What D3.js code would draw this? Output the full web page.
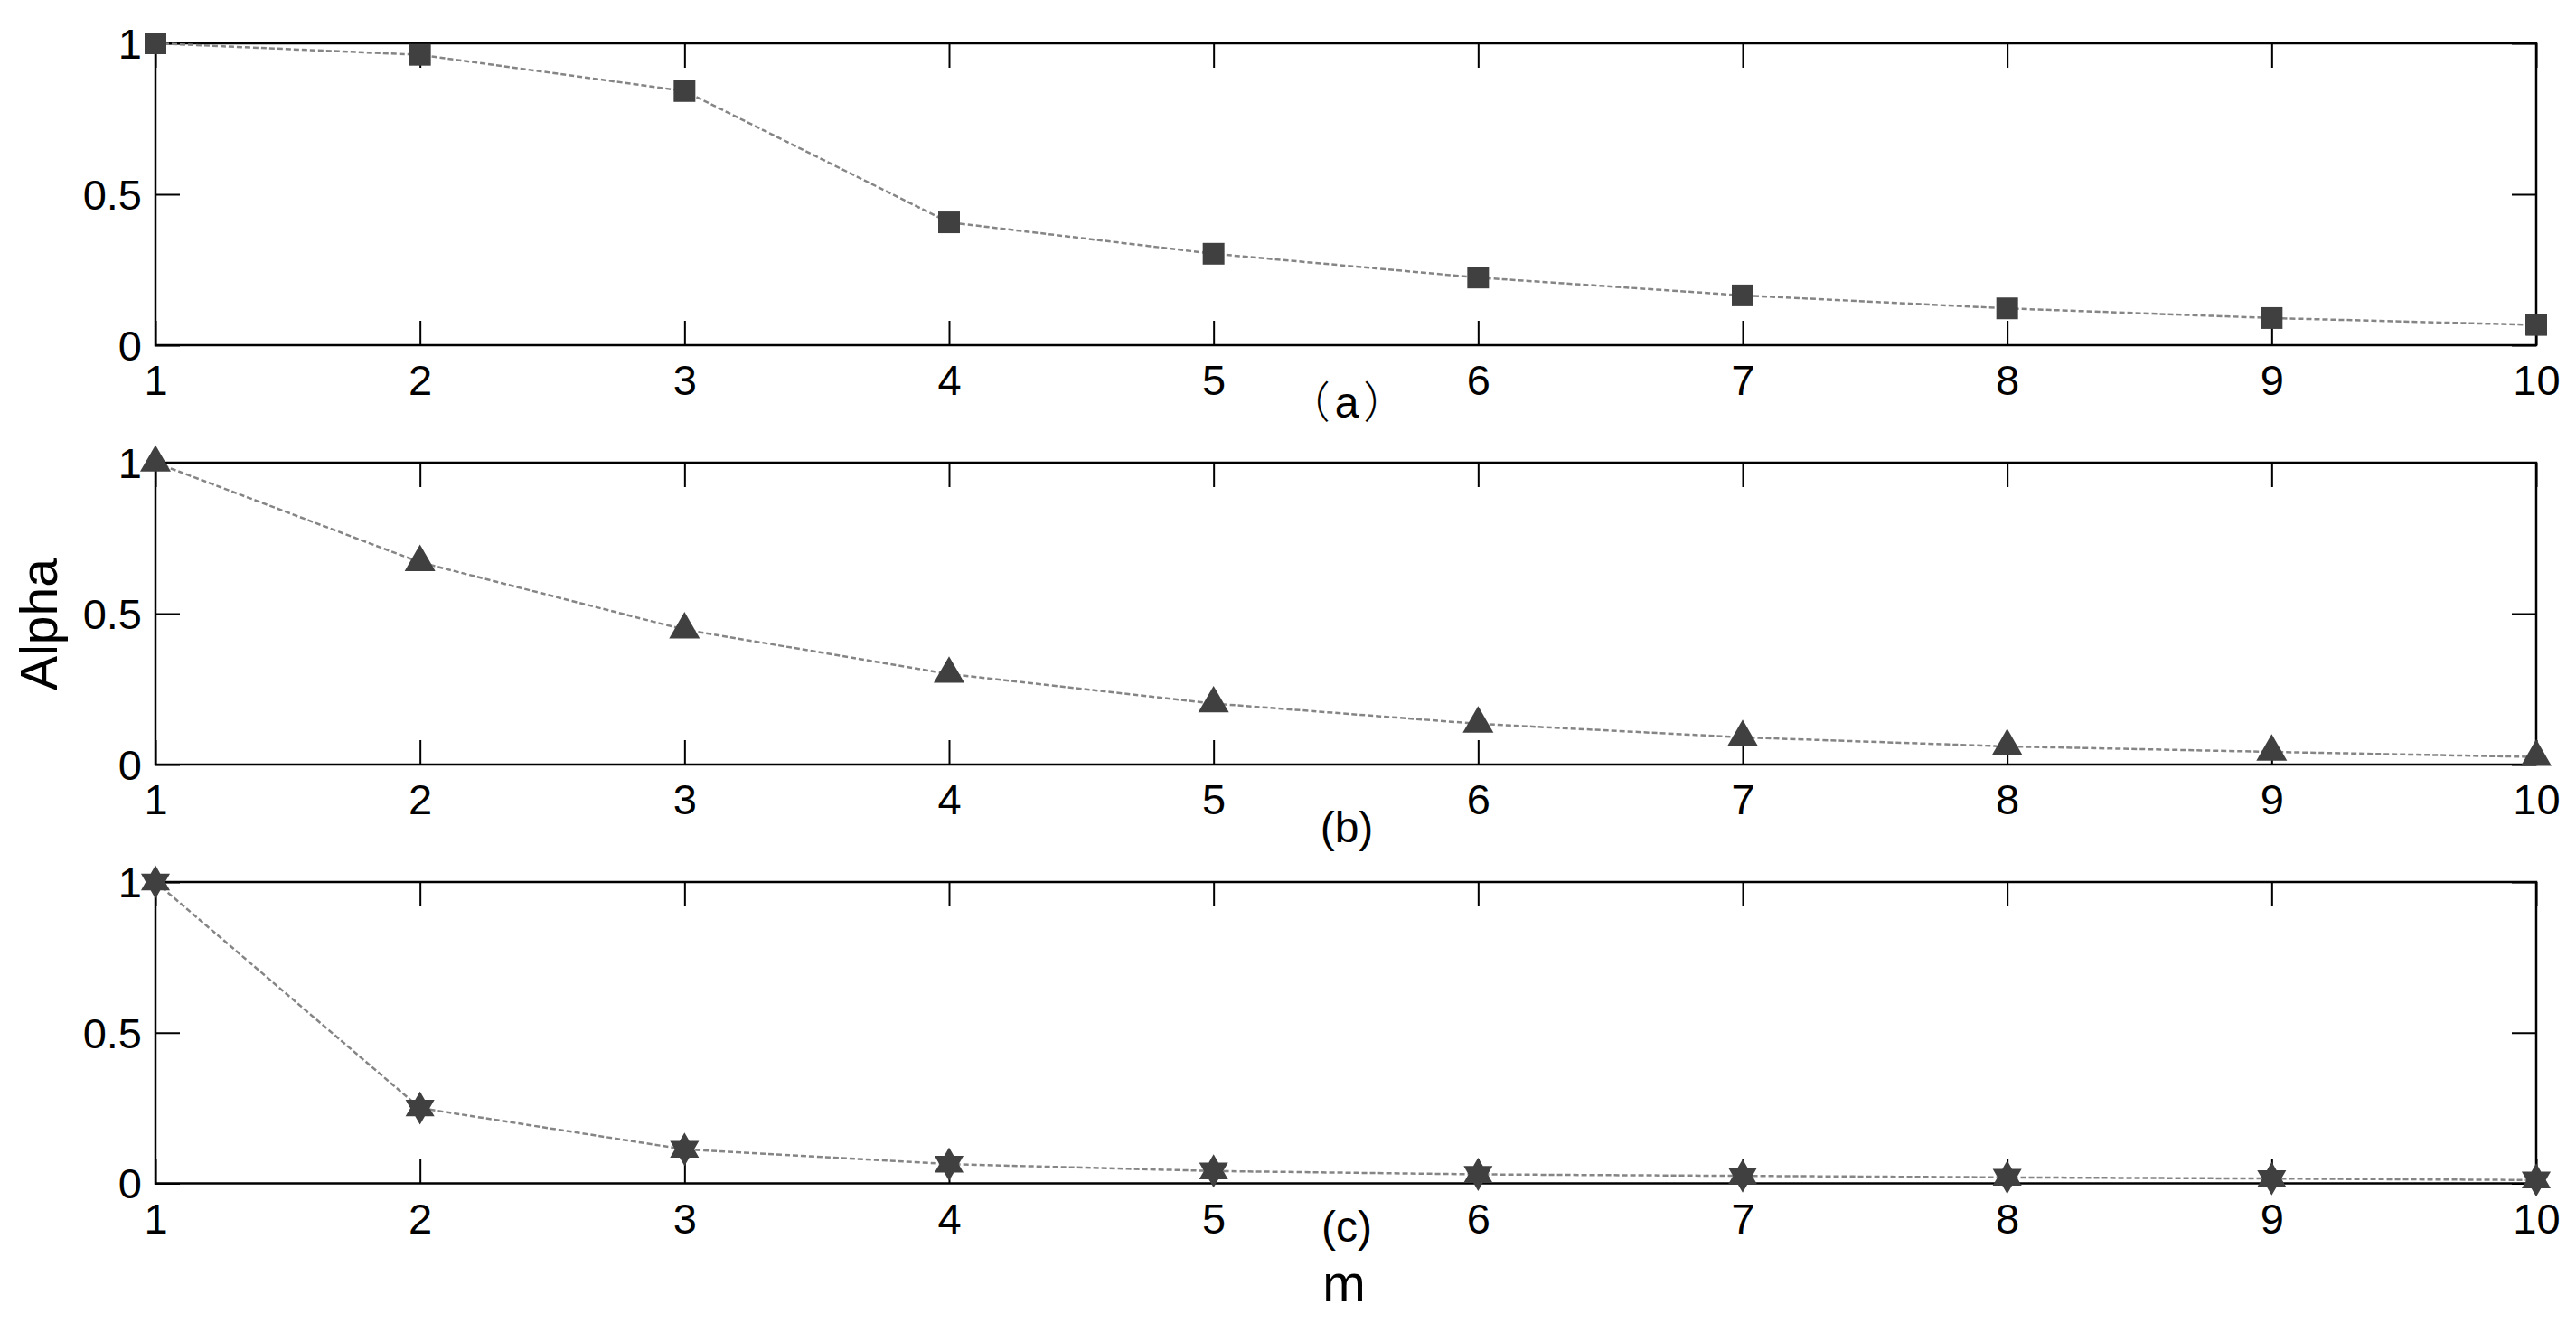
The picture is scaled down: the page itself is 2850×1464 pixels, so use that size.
<!DOCTYPE html>
<html>
<head>
<meta charset="utf-8">
<script src="https://cdn.jsdelivr.net/npm/d3@7"></script>
<style>
  html, body { margin: 0; padding: 0; background: #ffffff; }
  svg { display: block; }
  text { font-family: "Liberation Sans", Arial, "Noto Sans CJK SC", sans-serif; fill: #000; }
</style>
</head>
<body>
<svg id="chart" width="2850" height="1464"></svg>
<script>
// ---------------- data ----------------
const mValues = [1, 2, 3, 4, 5, 6, 7, 8, 9, 10];
const alphaA = [1.0, 0.962, 0.842, 0.407, 0.303, 0.224, 0.165, 0.122, 0.090, 0.067];
const alphaB = [1.0, 0.670, 0.447, 0.300, 0.202, 0.135, 0.090, 0.060, 0.042, 0.025];
const alphaC = [1.0, 0.250, 0.113, 0.064, 0.041, 0.030, 0.025, 0.020, 0.016, 0.011];
const xTickValues = [1, 2, 3, 4, 5, 6, 7, 8, 9, 10];
const yTickValues = [0, 0.5, 1];
const yTickLabels = ["0", "0.5", "1"];
// panel labels: [open paren, letter, close paren]
const panelLabels = [["\uFF08", "a", "\uFF09"], ["(", "b", ")"], ["(", "c", ")"]];
const markerKinds = ["square", "triangle", "hexagram"];
const yAxisTitle = "Alpha";
const xAxisTitle = "m";

// ---------------- layout ----------------
const svg = d3.select("#chart");
const left = 172, right = 2806;
const panels = [
  { top: 48,  bottom: 382,  data: alphaA, label: panelLabels[0], labelY: 462,  marker: markerKinds[0], cjk: true },
  { top: 512, bottom: 846,  data: alphaB, label: panelLabels[1], labelY: 932,  marker: markerKinds[1], cjk: false },
  { top: 976, bottom: 1309.5, data: alphaC, label: panelLabels[2], labelY: 1374, marker: markerKinds[2], cjk: false }
];

const x = d3.scaleLinear().domain([1, 10]).range([left, right]);

const hexagram = {
  draw(context, size) {
    const R = Math.sqrt(size) / 1.75;
    const r = R / Math.sqrt(3);
    for (let i = 0; i < 12; i++) {
      const a = -Math.PI / 2 + i * Math.PI / 6;
      const rr = i % 2 === 0 ? R : r;
      const px = rr * Math.cos(a), py = rr * Math.sin(a);
      if (i === 0) context.moveTo(px, py); else context.lineTo(px, py);
    }
    context.closePath();
  }
};
const symbolFor = {
  square: d3.symbol(d3.symbolSquare, 24 * 24),
  triangle: d3.symbol(d3.symbolTriangle, 500),
  hexagram: d3.symbol(hexagram, 1048)
};

const tickLen = 27;
const tickFont = 47;

panels.forEach((p) => {
  const y = d3.scaleLinear().domain([0, 1]).range([p.bottom, p.top]);
  const g = svg.append("g");

  const bx = g.append("g").attr("transform", `translate(0,${p.bottom})`)
    .call(d3.axisBottom(x).tickValues(xTickValues).tickSizeInner(-tickLen).tickSizeOuter(0).tickPadding(22).tickFormat(d3.format("d")));
  const tx = g.append("g").attr("transform", `translate(0,${p.top})`)
    .call(d3.axisTop(x).tickValues(xTickValues).tickSizeInner(-tickLen).tickSizeOuter(0).tickFormat(""));
  const ly = g.append("g").attr("transform", `translate(${left},0)`)
    .call(d3.axisLeft(y).tickValues(yTickValues).tickSizeInner(-tickLen).tickSizeOuter(0).tickPadding(15)
      .tickFormat((d, i) => yTickLabels[i]));
  const ry = g.append("g").attr("transform", `translate(${right},0)`)
    .call(d3.axisRight(y).tickValues(yTickValues).tickSizeInner(-tickLen).tickSizeOuter(0).tickFormat(""));

  [bx, tx, ly, ry].forEach(a => {
    a.select(".domain").remove();
    a.selectAll(".tick line").attr("stroke", "#000").attr("stroke-width", 2);
    a.selectAll("text").attr("font-size", tickFont)
      .attr("font-family", '"Liberation Sans", Arial, sans-serif').attr("fill", "#000");
  });
  ly.selectAll("text").attr("dy", "0.35em");

  g.append("rect")
    .attr("x", left).attr("y", p.top)
    .attr("width", right - left).attr("height", p.bottom - p.top)
    .attr("fill", "none").attr("stroke", "#000").attr("stroke-width", 2.5);

  const line = d3.line().x((d, i) => x(mValues[i])).y(d => y(d));
  g.append("path").datum(p.data)
    .attr("d", line)
    .attr("fill", "none")
    .attr("stroke", "#858585")
    .attr("stroke-width", 2.5)
    .attr("stroke-dasharray", "6,3");

  g.selectAll("path.marker").data(p.data).enter().append("path")
    .attr("class", "marker")
    .attr("d", symbolFor[p.marker])
    .attr("transform", (d, i) => `translate(${x(mValues[i])},${y(d)})`)
    .attr("fill", "#404040");

  const t = g.append("text")
    .attr("x", (left + right) / 2 + 1)
    .attr("y", p.labelY)
    .attr("text-anchor", "middle")
    .attr("font-size", 48);
  const parenFont = p.cjk ? '"Noto Sans CJK SC", sans-serif' : '"Liberation Sans", Arial, sans-serif';
  const gap = p.cjk ? 5 : 0;
  t.append("tspan").attr("font-family", parenFont).attr("font-weight", p.cjk ? 300 : 400).text(p.label[0]);
  t.append("tspan").attr("dx", gap).attr("font-family", '"Liberation Sans", Arial, sans-serif').text(p.label[1]);
  t.append("tspan").attr("dx", gap).attr("font-family", parenFont).attr("font-weight", p.cjk ? 300 : 400).text(p.label[2]);
});

svg.append("text")
  .attr("transform", "translate(63,691) rotate(-90)")
  .attr("text-anchor", "middle")
  .attr("font-size", 57)
  .text(yAxisTitle);

svg.append("text")
  .attr("x", 1487)
  .attr("y", 1440)
  .attr("text-anchor", "middle")
  .attr("font-size", 57)
  .text(xAxisTitle);
</script>
</body>
</html>
